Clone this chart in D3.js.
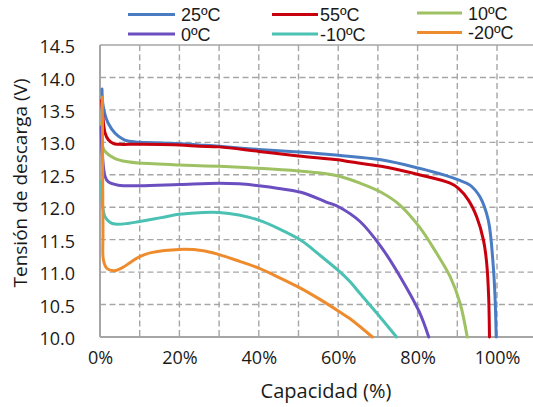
<!DOCTYPE html>
<html><head><meta charset="utf-8">
<script src="https://cdn.jsdelivr.net/npm/d3@7/dist/d3.min.js"></script>
<style>
html,body{margin:0;padding:0;background:#fff;}
text{font-family:"Open Sans",sans-serif;fill:#1a1a1a;}
</style></head>
<body><svg id="c" width="533" height="407"></svg>
<script>
const seriesNames = ["25ºC", "55ºC", "10ºC", "0ºC", "-10ºC", "-20ºC"];
const seriesColors = ["#4a7cc4", "#c8000e", "#9ec163", "#6b4fc0", "#4bc1b3", "#ee8b2c"];
const cap25 = [0.5, 0.7, 1.3, 2.1, 3.8, 5.5, 7, 10, 20, 25, 30, 40, 50, 60, 70.8, 80.4, 87, 90.3, 93.2, 95.7, 97.8, 99, 99.5, 99.8];
const volt25 = [13.82, 13.6, 13.42, 13.29, 13.14, 13.06, 13.02, 13.0, 12.98, 12.96, 12.94, 12.89, 12.85, 12.80, 12.73, 12.60, 12.49, 12.42, 12.34, 12.16, 11.80, 11.14, 10.62, 10.0];
const cap55 = [0.4, 0.6, 0.8, 1.3, 2.1, 3.4, 4.6, 10, 20, 25, 30, 40, 50, 60, 63, 70.8, 80.4, 88.2, 90.3, 92.8, 94.9, 96.6, 97.4, 97.9, 98.1];
const volt55 = [13.65, 13.5, 13.34, 13.14, 13.04, 12.98, 12.97, 12.97, 12.96, 12.94, 12.93, 12.86, 12.79, 12.73, 12.70, 12.63, 12.50, 12.37, 12.29, 12.11, 11.85, 11.49, 11.14, 10.62, 10.0];
const cap10 = [0.4, 0.6, 1.3, 3.8, 7, 10, 20, 25, 30, 40, 50, 55, 60, 65.5, 70.8, 75.6, 80.4, 84.8, 88.2, 90.7, 92.5];
const volt10 = [13.3, 12.95, 12.86, 12.75, 12.70, 12.68, 12.65, 12.64, 12.63, 12.60, 12.56, 12.53, 12.48, 12.37, 12.23, 12.03, 11.70, 11.29, 10.93, 10.52, 10.0];
const cap0 = [0.3, 0.6, 1.3, 2.1, 4.6, 10, 20, 30, 35, 40, 45, 50.6, 57, 60.3, 65.5, 70.8, 75.6, 80.4, 82.8];
const volt0 = [13.24, 12.8, 12.47, 12.39, 12.34, 12.33, 12.35, 12.37, 12.36, 12.33, 12.29, 12.23, 12.08, 12.0, 11.78, 11.39, 10.93, 10.39, 10.0];
const capM10 = [0.4, 0.7, 1.3, 2.5, 3.8, 7, 10, 15.4, 20, 26, 30, 35, 40, 45, 50.6, 55.4, 60.3, 63, 65.5, 70.8, 74.7];
const voltM10 = [12.4, 12.0, 11.85, 11.77, 11.74, 11.75, 11.78, 11.84, 11.89, 11.92, 11.92, 11.88, 11.80, 11.67, 11.49, 11.26, 11.01, 10.85, 10.67, 10.29, 10.0];
const capM20 = [0.6, 0.65, 0.75, 0.85, 1.7, 3.4, 5.4, 7.9, 10, 12.9, 20, 26, 30, 35, 40, 45, 50.6, 55.4, 60.3, 63, 68.6];
const voltM20 = [13.70, 12.8, 11.6, 11.19, 11.06, 11.02, 11.06, 11.16, 11.24, 11.30, 11.35, 11.33, 11.27, 11.17, 11.06, 10.92, 10.75, 10.58, 10.39, 10.28, 10.0];
const xTicks = [0, 20, 40, 60, 80, 100];
const xGrid = [10, 20, 30, 40, 50, 60, 70, 80, 90, 100];
const yTicks = [10.0, 10.5, 11.0, 11.5, 12.0, 12.5, 13.0, 13.5, 14.0, 14.5];
const xTitle = "Capacidad (%)";
const yTitle = "Tensión de descarga (V)";

const caps = [cap25, cap55, cap10, cap0, capM10, capM20];
const volts = [volt25, volt55, volt10, volt0, voltM10, voltM20];

const svg = d3.select("#c");
const x = d3.scaleLinear().domain([0, 110]).range([100, 100 + 110 * 3.97]);
const y = d3.scaleLinear().domain([10, 14.5]).range([337, 45]);
const gridCol = "#a6a6a6";

// grid
svg.append("g").selectAll("line").data(yTicks.filter(v => v > 10 && v < 14.5)).join("line")
  .attr("x1", x(0)).attr("x2", 533).attr("y1", d => y(d)).attr("y2", d => y(d))
  .attr("stroke", gridCol).attr("stroke-width", 1.4).attr("stroke-dasharray", "6,3.5");
svg.append("g").selectAll("line").data(xGrid).join("line")
  .attr("x1", d => x(d)).attr("x2", d => x(d)).attr("y1", y(14.5)).attr("y2", y(10))
  .attr("stroke", gridCol).attr("stroke-width", 1.4).attr("stroke-dasharray", "6,3.5");

// frame line on top
svg.append("line").attr("x1", x(0)).attr("x2", 533).attr("y1", y(14.5)).attr("y2", y(14.5))
  .attr("stroke", gridCol).attr("stroke-width", 1.5);

// axes
const xAxis = d3.axisBottom(x).tickValues(xTicks).tickFormat(d => d + "%").tickSize(0).tickPadding(14);
const gx = svg.append("g").attr("transform", `translate(0,${y(10)})`).call(xAxis);
gx.select(".domain").remove();
gx.selectAll("text").attr("font-size", 18).attr("font-family", "Open Sans").attr("fill", "#1a1a1a");
svg.append("line").attr("x1", x(0)).attr("x2", 533).attr("y1", y(10)).attr("y2", y(10))
  .attr("stroke", gridCol).attr("stroke-width", 2);

const yAxis = d3.axisLeft(y).tickValues(yTicks).tickFormat(d3.format(".1f")).tickSize(0).tickPadding(25);
const gy = svg.append("g").attr("transform", `translate(${x(0)},0)`).call(yAxis);
gy.select(".domain").remove();
gy.selectAll("text").attr("font-size", 18).attr("font-family", "Open Sans").attr("fill", "#1a1a1a").attr("dy", "0.42em");
svg.append("line").attr("x1", x(0)).attr("x2", x(0)).attr("y1", y(14.5)).attr("y2", y(10))
  .attr("stroke", gridCol).attr("stroke-width", 2);

// lines
const line = d3.line().x(d => x(d[0])).y(d => y(d[1])).curve(d3.curveCatmullRom.alpha(0.5));
caps.forEach((c, i) => {
  const pts = c.map((v, j) => [v, volts[i][j]]);
  svg.append("path").datum(pts).attr("d", line).attr("fill", "none")
    .attr("stroke", seriesColors[i]).attr("stroke-width", 3).attr("stroke-linejoin", "round").attr("stroke-linecap", "round");
});

// titles
svg.append("text").attr("x", 326).attr("y", 398).attr("text-anchor", "middle").attr("font-size", 20).text(xTitle);
svg.append("text").attr("transform", "translate(27,183) rotate(-90)").attr("text-anchor", "middle").attr("font-size", 19).text(yTitle);

// legend
const legCols = [[128, 175, 181], [272, 318, 320], [417, 462, 468]];
const legRows = [14.5, 34];
const legendOrder = [[0, 0, 0], [1, 1, 0], [2, 2, 0], [3, 0, 1], [4, 1, 1], [5, 2, 1]];
legendOrder.forEach(([si, ci, ri]) => {
  const c = legCols[ci];
  const ly = legRows[ri] - (ci === 2 ? 1.5 : 0);
  svg.append("line").attr("x1", c[0]).attr("x2", c[1]).attr("y1", ly).attr("y2", ly)
    .attr("stroke", seriesColors[si]).attr("stroke-width", 3);
  svg.append("text").attr("x", c[2]).attr("y", ly + 6.5).attr("font-size", 18)
    .attr("font-family", "Liberation Sans").style("font-family", "'Liberation Sans', sans-serif").text(seriesNames[si]);
});
</script></body></html>
